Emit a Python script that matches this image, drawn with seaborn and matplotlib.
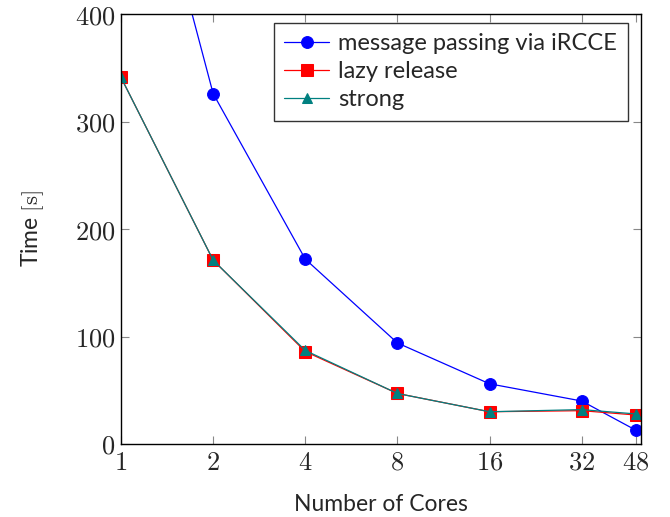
import matplotlib
matplotlib.use("Agg")
import matplotlib.pyplot as plt
import seaborn as sns
import pandas as pd
from matplotlib.ticker import FixedLocator, FixedFormatter, NullLocator

cores = [1, 2, 4, 8, 16, 32, 48]
msg_passing = [650, 326, 172, 94, 56, 40, 13]
lazy_release = [341, 171, 86, 47, 30, 31, 27]
strong = [341, 171, 87, 47, 30, 32, 28]
series_names = ["message passing via iRCCE", "lazy release", "strong"]
yticks = [0, 100, 200, 300, 400]

sns.set_style("white")
plt.rcParams["mathtext.fontset"] = "cm"
plt.rcParams["font.family"] = ["Lato", "DejaVu Sans"]

fig = plt.figure(figsize=(6.7, 5.17), dpi=100)
ax = fig.add_axes([0.1806, 0.1412, 0.7761, 0.8317])

df = pd.DataFrame({
    "cores": cores * 3,
    "time": msg_passing + lazy_release + strong,
    "series": [series_names[0]] * 7 + [series_names[1]] * 7 + [series_names[2]] * 7,
})

styles = [
    dict(color="#0000ff", marker="o", ms=8.5),
    dict(color="#ff0000", marker="s", ms=8),
    dict(color="#008080", marker="^", ms=7.5),
]
for name, st in zip(series_names, styles):
    sub = df[df["series"] == name]
    sns.lineplot(data=sub, x="cores", y="time", ax=ax, label=name,
                 color=st["color"], marker=st["marker"], markersize=st["ms"],
                 markeredgecolor=st["color"], markerfacecolor=st["color"],
                 linewidth=0.9)

ax.set_xscale("log", base=2)
ax.set_xlim(1, 50)
ax.set_ylim(0, 400)
ax.xaxis.set_major_locator(FixedLocator(cores))
ax.xaxis.set_major_formatter(FixedFormatter(["$%d$" % c for c in cores]))
ax.xaxis.set_minor_locator(NullLocator())
ax.yaxis.set_major_locator(FixedLocator(yticks))
ax.yaxis.set_major_formatter(FixedFormatter(["$%d$" % v for v in yticks]))

ax.tick_params(axis="both", which="major", direction="in", length=6, width=0.8,
               color="#888888", labelsize=19, top=True, right=True,
               bottom=True, left=True, pad=4)
for sp in ax.spines.values():
    sp.set_color("black")
    sp.set_linewidth(1.0)

ax.set_xlabel("Number of Cores", fontsize=16.5, labelpad=14)
ax.set_ylabel(r"Time $[\mathrm{s}]$", fontsize=16.5, labelpad=21)

leg = ax.legend(loc="upper right", bbox_to_anchor=(0.975, 0.98), fontsize=17,
                frameon=True, fancybox=False, edgecolor="black",
                borderpad=0.45, handlelength=1.9, labelspacing=0.3,
                handletextpad=0.4, borderaxespad=0.0)
leg.get_frame().set_linewidth(1.0)

fig.savefig("out.png", dpi=100)
